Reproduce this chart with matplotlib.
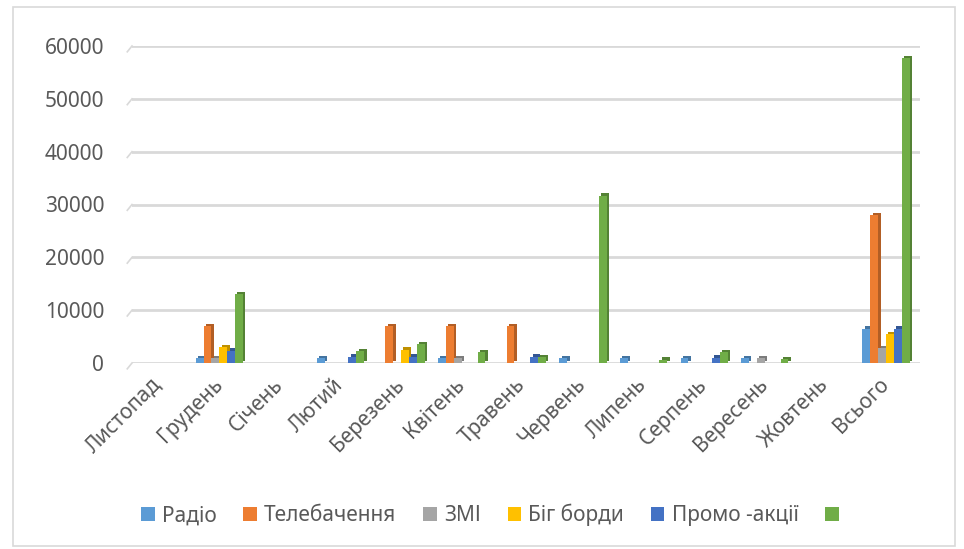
import matplotlib
matplotlib.use("Agg")
import matplotlib.pyplot as plt
import matplotlib.patheffects as pe
from matplotlib.patches import Patch, Rectangle
from matplotlib.colors import to_rgb
from matplotlib.transforms import ScaledTranslation
import numpy as np

plt.rcParams['font.family'] = ['Noto Sans', 'DejaVu Sans']

categories = ["Листопад", "Грудень", "Січень", "Лютий", "Березень", "Квітень",
              "Травень", "Червень", "Липень", "Серпень", "Вересень", "Жовтень", "Всього"]
series_names = ["Радіо", "Телебачення", "ЗМІ", "Біг борди", "Промо -акції", ""]

radio    = [0,  900, 0,  900, 0,    900,  0,    900,   900, 900,  900, 0, 6500]
tv       = [0, 7000, 0,    0, 7000, 7000, 7000, 0,     0,   0,    0,   0, 28000]
zmi      = [0,  900, 0,    0, 0,    900,  0,    0,     0,   0,    900, 0, 2800]
billb    = [0, 3000, 0,    0, 2500, 0,    0,    0,     0,   0,    0,   0, 5500]
promo    = [0, 2300, 0, 1200, 1200, 0,    1200, 0,     0,   1000, 0,   0, 6500]
other    = [0, 13000, 0, 2200, 3600, 2100, 1100, 31700, 600, 2000, 700, 0, 57700]

series = [radio, tv, zmi, billb, promo, other]
colors = ["#5B9BD5", "#ED7D31", "#A5A5A5", "#FFC000", "#4472C4", "#70AD47"]
yticks = [0, 10000, 20000, 30000, 40000, 50000, 60000]

W, H = 964, 549
fig = plt.figure(figsize=(W / 100, H / 100), dpi=100)
fig.patch.set_facecolor("white")

# outer chart border
fig.patches.append(Rectangle((13 / W, 3 / H), (955 - 13) / W, (542 - 3) / H,
                             transform=fig.transFigure, fill=False,
                             edgecolor="#d9d9d9", linewidth=1.2))

x0, x1 = 132, 920
y0, y1 = 363, 46
ax = fig.add_axes([x0 / W, (H - y0) / H, (x1 - x0) / W, (y0 - y1) / H])
ax.set_xlim(-0.5, len(categories) - 0.5)
ax.set_ylim(0, 60000)
for s in ax.spines.values():
    s.set_visible(False)

tc = "#595959"
ax.set_yticks(yticks)
ax.set_yticklabels([str(v) for v in yticks], fontsize=15, color=tc)
ax.tick_params(axis='y', length=0, pad=20)
for v in yticks:
    ax.axhline(v, color="#d9d9d9", linewidth=2, zorder=0)
    ax.plot([-0.006, 0.0], [v - 1100, v], color="#d9d9d9", linewidth=1.2,
            transform=ax.get_yaxis_transform(), clip_on=False, zorder=0)

x = np.arange(len(categories))
bw = 0.13
shift = -0.06
for i, (vals, c) in enumerate(zip(series, colors)):
    dark = tuple(v * 0.75 for v in to_rgb(c))
    bars = ax.bar(x + shift + (i - 2.5) * bw, vals, width=bw, color=c,
                  linewidth=0, zorder=3)
    for b in bars:
        b.set_path_effects([pe.SimplePatchShadow(offset=(1.7, 1.7),
                                                 shadow_rgbFace=dark, alpha=1.0),
                            pe.Normal()])

ax.set_xticks(x)
ax.set_xticklabels(categories, rotation=45, ha='right', va='top',
                   rotation_mode='anchor', fontsize=15, color=tc)
ax.tick_params(axis='x', length=0, pad=8)
off = ScaledTranslation(-8 / 72, 0, fig.dpi_scale_trans)
for lab in ax.get_xticklabels():
    lab.set_transform(lab.get_transform() + off)

handles = [Patch(facecolor=c, edgecolor='none') for c in colors]
fig.legend(handles, series_names, loc='center', bbox_to_anchor=(0.512, 0.062),
           ncol=6, frameon=False, fontsize=15, labelcolor=tc,
           handlelength=0.65, handleheight=0.65, handletextpad=0.35,
           columnspacing=1.28)

fig.savefig("out.png", dpi=100)
